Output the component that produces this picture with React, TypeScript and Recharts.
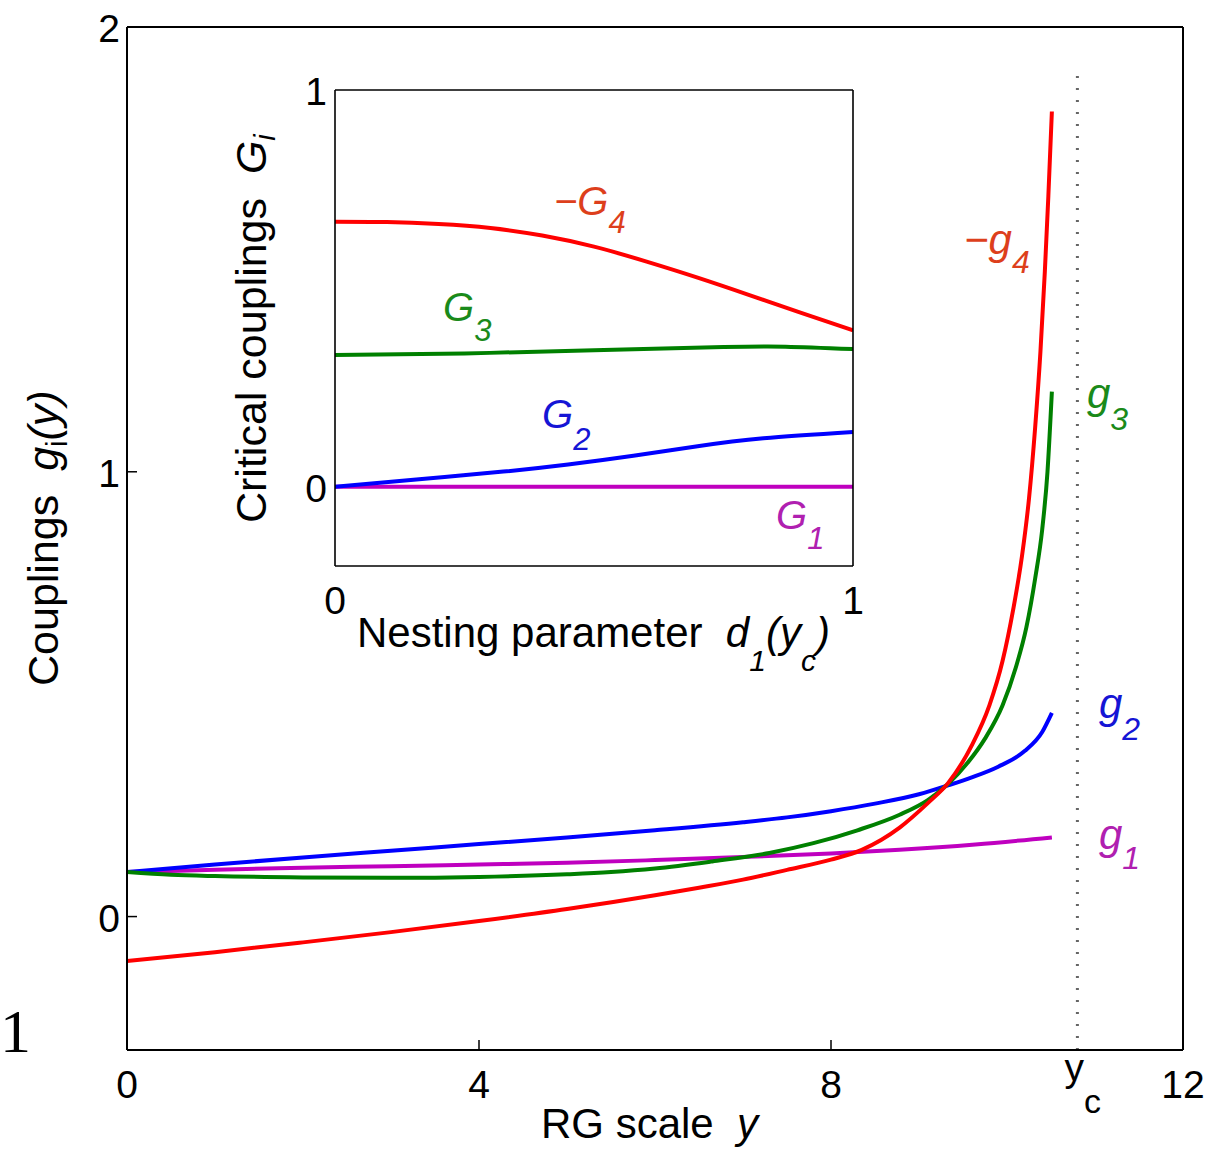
import React from 'react';
import { LineChart, Line, XAxis, YAxis } from 'recharts';

const FONT = '"Liberation Sans", Arial, Helvetica, sans-serif';

// ---------- main plot data (x = RG scale y, v = coupling) ----------
const mainXTicks = [0, 4, 8, 10.8, 12];
const mainYTicks = [0, 1, 2];
const YC = 10.8;

const g1Data = [
  { x: 0, v: 0.1 }, { x: 1, v: 0.105 }, { x: 2, v: 0.11 }, { x: 3, v: 0.113 },
  { x: 4, v: 0.117 }, { x: 5, v: 0.121 }, { x: 6, v: 0.127 }, { x: 7, v: 0.134 },
  { x: 8, v: 0.142 }, { x: 8.78, v: 0.15 }, { x: 9.64, v: 0.162 }, { x: 10.51, v: 0.178 },
];
const g2Data = [
  { x: 0, v: 0.1 }, { x: 1, v: 0.117 }, { x: 2, v: 0.133 }, { x: 3, v: 0.148 },
  { x: 4, v: 0.163 }, { x: 5, v: 0.178 }, { x: 6, v: 0.194 }, { x: 7, v: 0.212 },
  { x: 7.5, v: 0.223 }, { x: 8, v: 0.237 }, { x: 8.5, v: 0.254 }, { x: 9, v: 0.275 },
  { x: 9.33, v: 0.295 }, { x: 9.6, v: 0.313 }, { x: 9.9, v: 0.337 }, { x: 10.2, v: 0.372 },
  { x: 10.4, v: 0.415 }, { x: 10.51, v: 0.458 },
];
const g3Data = [
  { x: 0, v: 0.1 }, { x: 0.5, v: 0.094 }, { x: 1, v: 0.091 }, { x: 2, v: 0.088 },
  { x: 3, v: 0.087 }, { x: 4, v: 0.089 }, { x: 5, v: 0.095 }, { x: 5.5, v: 0.1 },
  { x: 6, v: 0.108 }, { x: 6.65, v: 0.124 }, { x: 7.3, v: 0.143 }, { x: 7.8, v: 0.165 },
  { x: 8.3, v: 0.194 }, { x: 8.78, v: 0.229 }, { x: 9.1, v: 0.262 }, { x: 9.33, v: 0.298 },
  { x: 9.55, v: 0.345 }, { x: 9.75, v: 0.4 }, { x: 9.95, v: 0.475 }, { x: 10.1, v: 0.56 },
  { x: 10.22, v: 0.65 }, { x: 10.32, v: 0.76 }, { x: 10.4, v: 0.87 }, { x: 10.46, v: 1.0 },
  { x: 10.51, v: 1.18 },
];
const g4Data = [
  { x: 0, v: -0.1 }, { x: 1, v: -0.08 }, { x: 2, v: -0.058 }, { x: 3, v: -0.035 },
  { x: 4, v: -0.01 }, { x: 5, v: 0.017 }, { x: 6, v: 0.048 }, { x: 6.5, v: 0.065 },
  { x: 7, v: 0.083 }, { x: 7.5, v: 0.105 }, { x: 8, v: 0.128 }, { x: 8.35, v: 0.15 },
  { x: 8.78, v: 0.2 }, { x: 9.1, v: 0.255 }, { x: 9.33, v: 0.3 }, { x: 9.6, v: 0.385 },
  { x: 9.8, v: 0.475 }, { x: 9.95, v: 0.575 }, { x: 10.07, v: 0.69 }, { x: 10.17, v: 0.81 },
  { x: 10.25, v: 0.94 }, { x: 10.32, v: 1.1 }, { x: 10.38, v: 1.27 }, { x: 10.43, v: 1.45 },
  { x: 10.47, v: 1.62 }, { x: 10.51, v: 1.81 },
];
const ycData = [{ x: YC, v: -0.3 }, { x: YC, v: 1.91 }];

// ---------- inset data (x = nesting parameter d1(yc), v = critical coupling) ----------
const insetXTicks = [0, 1];
const insetYTicks = [0, 1];
const G1Data = [{ x: 0, v: 0 }, { x: 1, v: 0 }];
const G2Data = [
  { x: 0, v: 0 }, { x: 0.157, v: 0.018 }, { x: 0.325, v: 0.038 }, { x: 0.45, v: 0.056 },
  { x: 0.576, v: 0.078 }, { x: 0.7, v: 0.102 }, { x: 0.827, v: 0.122 }, { x: 1, v: 0.138 },
];
const G3Data = [
  { x: 0, v: 0.332 }, { x: 0.25, v: 0.336 }, { x: 0.5, v: 0.344 }, { x: 0.75, v: 0.352 },
  { x: 0.87, v: 0.353 }, { x: 1, v: 0.347 },
];
const G4Data = [
  { x: 0, v: 0.668 }, { x: 0.1, v: 0.667 }, { x: 0.2, v: 0.662 }, { x: 0.3, v: 0.652 },
  { x: 0.4, v: 0.633 }, { x: 0.5, v: 0.605 }, { x: 0.6, v: 0.568 }, { x: 0.7, v: 0.527 },
  { x: 0.8, v: 0.483 }, { x: 0.9, v: 0.438 }, { x: 1, v: 0.394 },
];

const RED = '#FF0000';
const GREEN = '#008000';
const BLUE = '#0000FF';
const MAGENTA = '#BF00BF';
const RED_T = '#DD3F1C';
const GREEN_T = '#1A8A1A';
const BLUE_T = '#1515D5';
const MAGENTA_T = '#B020B0';

const MainXTick = (props: any) => {
  const { x, y, payload } = props;
  const val = payload.value;
  const isYc = Math.abs(val - YC) < 1e-6;
  const showLine = val === 4 || val === 8;
  return (
    <g>
      {showLine && <line x1={x} y1={y} x2={x} y2={y - 10} stroke="#000" strokeWidth={1.5} />}
      {isYc ? (
        <text x={x - 13} y={y + 31} fontSize={39} fontFamily={FONT} fill="#000">
          y<tspan fontSize={34} dy={32}>c</tspan>
        </text>
      ) : (
        <text x={x} y={y + 48} fontSize={39} fontFamily={FONT} fill="#000" textAnchor="middle">
          {val}
        </text>
      )}
    </g>
  );
};

const MainYTick = (props: any) => {
  const { x, y, payload } = props;
  const val = payload.value;
  return (
    <g>
      {val !== 2 && <line x1={x} y1={y} x2={x + 10} y2={y} stroke="#000" strokeWidth={1.5} />}
      <text x={x - 7} y={y + 15} fontSize={39} fontFamily={FONT} fill="#000" textAnchor="end">
        {val}
      </text>
    </g>
  );
};

const InsetXTick = (props: any) => {
  const { x, y, payload } = props;
  return (
    <text x={x} y={y + 48} fontSize={39} fontFamily={FONT} fill="#000" textAnchor="middle">
      {payload.value}
    </text>
  );
};

const InsetYTick = (props: any) => {
  const { x, y, payload } = props;
  return (
    <text x={x - 8} y={y + 15} fontSize={39} fontFamily={FONT} fill="#000" textAnchor="end">
      {payload.value}
    </text>
  );
};

const lineCommon = {
  dataKey: 'v',
  dot: false,
  activeDot: false,
  isAnimationActive: false,
  type: 'monotone' as const,
  strokeWidth: 4,
};

export default function App() {
  const axisMain = { stroke: '#000', strokeWidth: 2 };
  const axisInset = { stroke: '#000', strokeWidth: 1.6 };
  const pre = { whiteSpace: 'pre' as const };
  return (
    <div
      style={{
        position: 'absolute', left: 0, top: 0, width: 1207, height: 1153,
        background: '#fff', overflow: 'hidden', fontFamily: FONT,
      }}
    >
      <div style={{ position: 'absolute', left: 0, top: 0 }}>
        <LineChart width={1207} height={1153} margin={{ top: 17, right: 14, bottom: 73, left: 67 }}>
          <XAxis
            dataKey="x" type="number" domain={[0, 12]} ticks={mainXTicks} interval={0}
            allowDataOverflow height={30} tickLine={false} tickSize={0} tickMargin={0}
            axisLine={axisMain} tick={(p: any) => <MainXTick {...p} />}
          />
          <XAxis
            xAxisId="top" orientation="top" dataKey="x" type="number" domain={[0, 12]}
            ticks={[0, 4, 8, 12]} interval={0} allowDataOverflow height={10} tick={false}
            tickSize={-10} tickLine={{ stroke: '#000', strokeWidth: 1.5 }} axisLine={axisMain}
          />
          <YAxis
            type="number" domain={[-0.3, 2]} ticks={mainYTicks} interval={0} allowDataOverflow
            width={60} tickLine={false} tickSize={0} tickMargin={0} axisLine={axisMain}
            tick={(p: any) => <MainYTick {...p} />}
          />
          <YAxis
            yAxisId="r" orientation="right" type="number" domain={[-0.3, 2]} ticks={[0, 1, 2]}
            interval={0} allowDataOverflow width={10} tick={false} tickSize={-10}
            tickLine={{ stroke: '#000', strokeWidth: 1.5 }} axisLine={axisMain}
          />
          <Line data={ycData} dataKey="v" type="linear" stroke="#666" strokeWidth={3}
            strokeDasharray="2 10" dot={false} activeDot={false} isAnimationActive={false} />
          <Line {...lineCommon} data={g1Data} stroke={MAGENTA} />
          <Line {...lineCommon} data={g2Data} stroke={BLUE} />
          <Line {...lineCommon} data={g3Data} stroke={GREEN} />
          <Line {...lineCommon} data={g4Data} stroke={RED} />
        </LineChart>
      </div>

      <div style={{ position: 'absolute', left: 220, top: 60 }}>
        <LineChart width={680} height={620} margin={{ top: 20, right: 37, bottom: 84, left: 75 }}>
          <XAxis
            dataKey="x" type="number" domain={[0, 1]} ticks={insetXTicks} interval={0}
            allowDataOverflow height={30} tickLine={false} tickSize={0} tickMargin={0}
            axisLine={axisInset} tick={(p: any) => <InsetXTick {...p} />}
          />
          <XAxis
            xAxisId="top" orientation="top" dataKey="x" type="number" domain={[0, 1]}
            ticks={insetXTicks} allowDataOverflow height={10} tick={false} tickLine={false}
            axisLine={axisInset}
          />
          <YAxis
            type="number" domain={[-0.2, 1]} ticks={insetYTicks} interval={0} allowDataOverflow
            width={40} tickLine={false} tickSize={0} tickMargin={0} axisLine={axisInset}
            tick={(p: any) => <InsetYTick {...p} />}
          />
          <YAxis
            yAxisId="r" orientation="right" type="number" domain={[-0.2, 1]} ticks={insetYTicks}
            allowDataOverflow width={10} tick={false} tickLine={false} axisLine={axisInset}
          />
          <Line {...lineCommon} type="natural" data={G1Data} stroke={MAGENTA} />
          <Line {...lineCommon} type="natural" data={G2Data} stroke={BLUE} />
          <Line {...lineCommon} type="natural" data={G3Data} stroke={GREEN} />
          <Line {...lineCommon} type="natural" data={G4Data} stroke={RED} />
        </LineChart>
      </div>

      <svg
        width={1207} height={1153}
        style={{ position: 'absolute', left: 0, top: 0, pointerEvents: 'none' }}
        fontFamily={FONT}
      >
        {/* page remnant at the left edge */}
        <text x={0} y={1052} fontSize={62} fontFamily='"Liberation Serif", "Times New Roman", serif' fill="#000">1</text>

        {/* main axis labels */}
        <text transform="translate(58,686) rotate(-90)" fontSize={43} fill="#000" style={pre}>
          {'Couplings  '}
          <tspan fontStyle="italic">g</tspan>
          <tspan fontSize={29} dy={9}>i</tspan>
          <tspan dy={-9} fontStyle="italic">(y)</tspan>
        </text>
        <text x={541} y={1138} fontSize={42} fill="#000" style={pre}>
          {'RG scale  '}
          <tspan fontStyle="italic">y</tspan>
        </text>

        {/* main series labels */}
        <text x={964} y={254} fontSize={42} fill={RED_T} fontStyle="italic">
          {'\u2212g'}<tspan fontSize={32} dy={19}>4</tspan>
        </text>
        <text x={1087} y={408} fontSize={42} fill={GREEN_T} fontStyle="italic">
          g<tspan fontSize={32} dy={22}>3</tspan>
        </text>
        <text x={1099} y={718} fontSize={42} fill={BLUE_T} fontStyle="italic">
          g<tspan fontSize={32} dy={22}>2</tspan>
        </text>
        <text x={1099} y={849} fontSize={42} fill={MAGENTA_T} fontStyle="italic">
          g<tspan fontSize={32} dy={20}>1</tspan>
        </text>

        {/* inset axis labels */}
        <text transform="translate(266,523) rotate(-90)" fontSize={43} fill="#000" style={pre}>
          {'Critical couplings  '}
          <tspan fontStyle="italic">G</tspan>
          <tspan fontSize={29} dy={9} fontStyle="italic">i</tspan>
        </text>
        <text x={357} y={647} fontSize={42} fill="#000" style={pre}>
          {'Nesting parameter  '}
          <tspan fontStyle="italic">d</tspan>
          <tspan fontStyle="italic" fontSize={30} dy={24}>1</tspan>
          <tspan fontStyle="italic" dy={-24}>(y</tspan>
          <tspan fontStyle="italic" fontSize={30} dy={24}>c</tspan>
          <tspan fontStyle="italic" dy={-24}>)</tspan>
        </text>

        {/* inset series labels */}
        <text x={554} y={215} fontSize={40} fill={RED_T} fontStyle="italic">
          {'\u2212G'}<tspan fontSize={31} dy={18}>4</tspan>
        </text>
        <text x={443} y={321} fontSize={40} fill={GREEN_T} fontStyle="italic">
          G<tspan fontSize={31} dy={20}>3</tspan>
        </text>
        <text x={542} y={428} fontSize={40} fill={BLUE_T} fontStyle="italic">
          G<tspan fontSize={31} dy={22}>2</tspan>
        </text>
        <text x={776} y={529} fontSize={40} fill={MAGENTA_T} fontStyle="italic">
          G<tspan fontSize={31} dy={20}>1</tspan>
        </text>
      </svg>
    </div>
  );
}
